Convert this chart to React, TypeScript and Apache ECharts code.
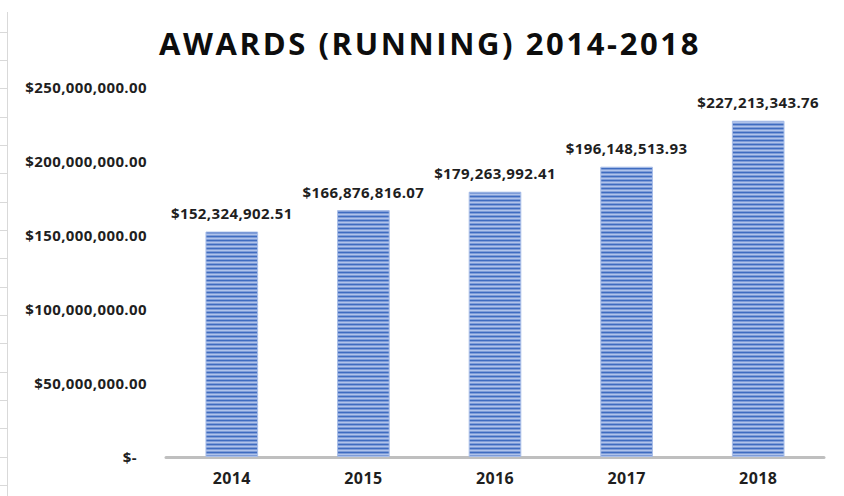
import React, { useEffect, useRef } from "react";
import * as echarts from "echarts";

const categories = ["2014", "2015", "2016", "2017", "2018"];
const awards = [152324902.51, 166876816.07, 179263992.41, 196148513.93, 227213343.76];
const yTicks = [0, 50000000, 100000000, 150000000, 200000000, 250000000];
const titleText = "AWARDS (RUNNING) 2014-2018";

function money(v: number): string {
  return (
    "$" +
    v.toLocaleString("en-US", { minimumFractionDigits: 2, maximumFractionDigits: 2 })
  );
}

function makeStripe(): HTMLCanvasElement {
  const c = document.createElement("canvas");
  c.width = 4;
  c.height = 4;
  const ctx = c.getContext("2d")!;
  const rows = ["#3F6CC0", "#7E9CD8", "#B0C3EA", "#7E9CD8"];
  rows.forEach((col, i) => {
    ctx.fillStyle = col;
    ctx.fillRect(0, i, 4, 1);
  });
  return c;
}

const FONT = "Open Sans";
const TXT = "#1f1f1f";

export default function App() {
  const ref = useRef<HTMLDivElement>(null);
  useEffect(() => {
    if (!ref.current) return;
    const host = ref.current;
    const chart = echarts.init(host, undefined, { renderer: "svg" });
    const stripe = makeStripe();
    const deco: any[] = [
      {
        type: "line",
        shape: { x1: 7.5, y1: 12, x2: 7.5, y2: 496 },
        style: { stroke: "#D9D9D9", lineWidth: 1 },
        silent: true,
      },
    ];
    for (let i = 0; i < 17; i++) {
      const y = Math.round(31.7 + i * 28.33) + 0.5;
      deco.push({
        type: "line",
        shape: { x1: 0, y1: y, x2: 7, y2: y },
        style: { stroke: "#D9D9D9", lineWidth: 1 },
        silent: true,
      });
    }
    chart.setOption({
      animation: false,
      backgroundColor: "#ffffff",
      title: {
        text: titleText,
        left: 425,
        textAlign: "center",
        top: 22,
        textStyle: {
          fontFamily: FONT,
          fontWeight: "bold",
          fontSize: 31,
          color: "#0d0d0d",
        },
      },
      graphic: deco,
      grid: { left: 166, right: 20, top: 87, bottom: 39, containLabel: false },
      xAxis: {
        type: "category",
        data: categories,
        axisLine: { lineStyle: { color: "#BFBFBF", width: 3 } },
        axisTick: { show: false },
        axisLabel: {
          margin: 13,
          fontFamily: FONT,
          fontWeight: "bold",
          fontSize: 16,
          color: TXT,
        },
      },
      yAxis: {
        type: "value",
        min: 0,
        max: 250000000,
        interval: 50000000,
        axisLine: { show: false },
        axisTick: { show: false },
        splitLine: { show: false },
        axisLabel: {
          margin: 19,
          fontFamily: FONT,
          fontWeight: "bold",
          fontSize: 15,
          color: TXT,
          formatter: (v: number) =>
            yTicks.indexOf(v) === 0 ? "{z|$-}" : money(v),
          rich: {
            z: {
              fontFamily: FONT,
              fontWeight: "bold",
              fontSize: 15,
              color: TXT,
              padding: [0, 10, 0, 0],
            },
          },
        },
      },
      series: [
        {
          type: "bar",
          data: awards,
          barWidth: "40%",
          itemStyle: {
            color: { image: stripe, repeat: "repeat" } as any,
            borderColor: "#A9BEE8",
            borderWidth: 1,
          },
          label: {
            show: true,
            position: "top",
            distance: 11,
            fontFamily: FONT,
            fontWeight: "bold",
            fontSize: 15,
            color: TXT,
            formatter: (p: any) => money(p.value),
          },
        },
      ],
    });
    const spaceText = () => {
      host.querySelectorAll("text").forEach((t) => {
        if (t.textContent === titleText) t.setAttribute("letter-spacing", "2.6");
        else t.setAttribute("letter-spacing", "0.4");
      });
    };
    spaceText();
    chart.on("finished", spaceText);
    const tm = setTimeout(spaceText, 50);
    return () => {
      clearTimeout(tm);
      chart.dispose();
    };
  }, []);
  return <div ref={ref} style={{ width: 844, height: 496, position: "absolute", left: 0, top: 0 }} />;
}
